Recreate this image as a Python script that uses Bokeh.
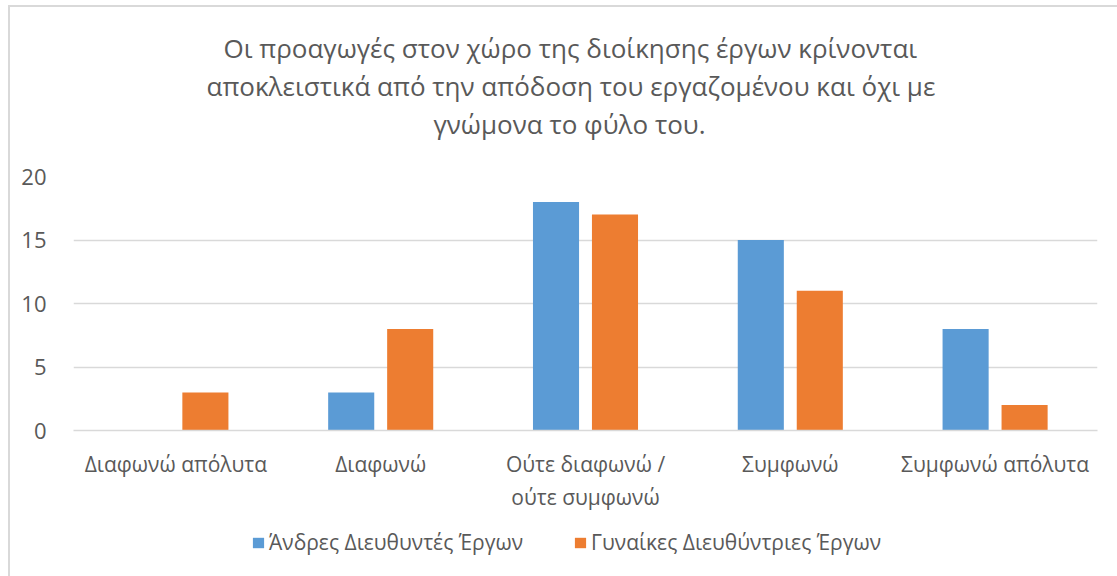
from bokeh.plotting import figure
from bokeh.layouts import column
from bokeh.models import Title, Legend, LegendItem, FactorRange, Range1d, FixedTicker, ColumnDataSource
from bokeh.transform import dodge
from bokeh.embed import file_html
from bokeh.resources import INLINE

title_lines = [
    "Οι προαγωγές στον χώρο της διοίκησης έργων κρίνονται",
    "αποκλειστικά από την απόδοση του εργαζομένου και όχι με",
    "γνώμονα το φύλο του.",
]
categories = ["Διαφωνώ απόλυτα", "Διαφωνώ", "Ούτε διαφωνώ /\nούτε συμφωνώ", "Συμφωνώ", "Συμφωνώ απόλυτα"]
men = [0, 3, 18, 15, 8]
women = [3, 8, 17, 11, 2]
series_names = ["Άνδρες Διευθυντές Έργων", "Γυναίκες Διευθύντριες Έργων"]
y_ticks = [0, 5, 10, 15, 20]

BLUE = "#5B9BD5"
ORANGE = "#ED7D31"
TXT = "#595959"
GRID = "#D9D9D9"
FONT = "Open Sans"

x_range = FactorRange(*categories, range_padding=0)
source = ColumnDataSource(dict(cat=categories, men=men, women=women))

# ---- main chart ----
p = figure(
    frame_width=1024, frame_height=254,
    x_range=x_range, y_range=Range1d(0, 20),
    output_backend="svg", toolbar_location=None,
    min_border_left=63, min_border_right=20, min_border_top=169, min_border_bottom=80,
)
p.outline_line_color = None
p.background_fill_color = "white"
p.border_fill_color = "white"

# spacer between title block and plot area
p.add_layout(Title(text=" ", text_font_size="1px", standoff=32), "above")
title_offsets = [150, 133, 360]
for line, off in reversed(list(zip(title_lines, title_offsets))):
    p.add_layout(Title(text=line, align="left", offset=off, standoff=0,
                       text_font=FONT, text_font_size="26px", text_font_style="normal",
                       text_color=TXT), "above")

p.vbar(x=dodge("cat", -0.144, range=x_range), top="men", width=0.225, source=source,
       fill_color=BLUE, line_color=None)
p.vbar(x=dodge("cat", 0.144, range=x_range), top="women", width=0.225, source=source,
       fill_color=ORANGE, line_color=None)

p.xgrid.grid_line_color = None
p.ygrid.grid_line_color = GRID
p.ygrid.grid_line_width = 1.5
p.yaxis.ticker = FixedTicker(ticks=y_ticks)
for ax in (p.xaxis[0], p.yaxis[0]):
    ax.axis_line_color = None
    ax.major_tick_line_color = None
    ax.minor_tick_line_color = None
    ax.major_label_text_font = FONT
    ax.major_label_text_color = TXT
    ax.major_label_text_font_size = "21px"
p.yaxis.major_label_text_font_size = "22px"
p.xaxis.axis_line_color = GRID
p.xaxis.axis_line_width = 1.5
p.xaxis.major_label_standoff = 13
p.yaxis.major_label_standoff = 21

# ---- legend strip (same data renderers, out of view) ----
q = figure(width=1107, height=66, x_range=x_range, y_range=Range1d(100, 101),
           output_backend="svg", toolbar_location=None, min_border=0)
q.axis.visible = False
q.grid.visible = False
q.outline_line_color = None
r1 = q.vbar(x=dodge("cat", -0.144, range=x_range), top="men", width=0.225, source=source,
            fill_color=BLUE, line_color=None)
r2 = q.vbar(x=dodge("cat", 0.144, range=x_range), top="women", width=0.225, source=source,
            fill_color=ORANGE, line_color=None)
legend = Legend(items=[LegendItem(label=series_names[0], renderers=[r1]),
                       LegendItem(label=series_names[1], renderers=[r2])],
                orientation="horizontal", location=(178, 24),
                label_text_font=FONT, label_text_font_size="21px", label_text_color=TXT,
                glyph_width=14, glyph_height=13, spacing=50, label_standoff=4,
                padding=0, margin=0,
                border_line_color=None, background_fill_alpha=0)
q.add_layout(legend, "center")

layout = column(p, q, spacing=0,
                styles={"margin-left": "8px", "margin-top": "5px",
                        "border-left": "2px solid #D9D9D9", "border-top": "2px solid #D9D9D9"})

open("out.html", "w").write(file_html(layout, INLINE))
